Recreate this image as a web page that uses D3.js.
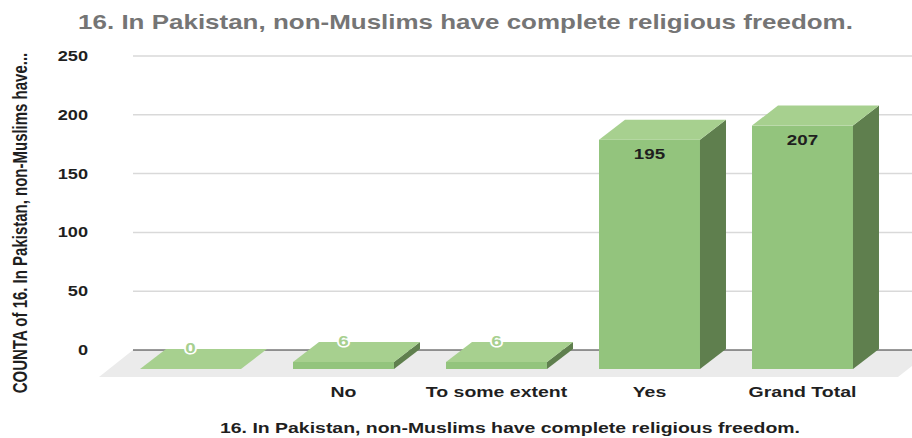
<!DOCTYPE html>
<html>
<head>
<meta charset="utf-8">
<script src="https://cdn.jsdelivr.net/npm/d3@7"></script>
<style>
  html, body { margin: 0; padding: 0; background: #ffffff; }
  svg { display: block; }
  text { font-family: "Liberation Sans", Arial, sans-serif; font-weight: bold; }
</style>
</head>
<body>
<svg id="chart" width="912" height="438"></svg>
<script>
// Responses per answer, plus the grand total
const categories = ["", "No", "To some extent", "Yes", "Grand Total"];
const counts = [0, 6, 6, 195, 207];
const yTicks = [0, 50, 100, 150, 200, 250];

const chartTitle = "16. In Pakistan, non-Muslims have complete religious freedom.";
const xTitle = "16. In Pakistan, non-Muslims have complete religious freedom.";
const yTitle = "COUNTA of 16. In Pakistan, non-Muslims have...";

const W = 912, H = 438;
const svg = d3.select("#chart");

// wide lettering: each label is drawn at its anchor and stretched horizontally
function place(sel, fx, fy, sx) {
  return sel.attr("transform", (d, i) => `translate(${fx(d, i)},${fy(d, i)}) scale(${sx},1)`);
}

// 3D depth offset of the columns (back face is up and to the right)
const depthX = 26, depthY = 20;

const x = d3.scaleBand()
  .domain(categories)
  .range([114, 879])
  .paddingInner(0.34)
  .paddingOuter(0.17);

// back-wall scale; column fronts sit depthY lower
const y = d3.scaleLinear().domain([0, 250]).range([350, 56]);

const wallLeft = 133;
const baseBack = y(0);
const baseFront = baseBack + depthY - 1;

// floor
const floorDepth = 27, floorShift = 34;
svg.append("path")
  .attr("d", d3.line()([
    [wallLeft, baseBack], [W + 20, baseBack],
    [W + 20 - floorShift, baseBack + floorDepth], [wallLeft - floorShift, baseBack + floorDepth]
  ]) + "Z")
  .attr("fill", "#ebebeb");

// gridlines on the back wall
svg.append("g").selectAll("line")
  .data(yTicks.filter(d => d > 0))
  .join("line")
  .attr("x1", wallLeft).attr("x2", W)
  .attr("y1", d => y(d)).attr("y2", d => y(d))
  .attr("stroke", "#d9d9d9")
  .attr("stroke-width", 1.5);

svg.append("line")
  .attr("x1", wallLeft).attr("x2", W)
  .attr("y1", baseBack).attr("y2", baseBack)
  .attr("stroke", "#333333")
  .attr("stroke-width", 1);

// y tick labels
place(svg.append("g").selectAll("text")
  .data(yTicks)
  .join("text")
  .attr("dy", "0.35em")
  .attr("text-anchor", "end")
  .attr("font-size", 14)
  .attr("fill", "#1f1f1f")
  .text(d => d), () => 88, d => y(d), 1.3);

// columns
const data = categories.map((c, i) => ({ cat: c, value: counts[i] }));
const bars = svg.append("g").selectAll("g")
  .data(data)
  .join("g");

const w = x.bandwidth();
const frontTop = v => y(v) + depthY - 1;
bars.each(function (d) {
  const g = d3.select(this);
  const x0 = x(d.cat);
  const top = frontTop(d.value);
  if (d.value > 0) {
    g.append("rect")
      .attr("x", x0).attr("y", top)
      .attr("width", w).attr("height", baseFront - top)
      .attr("fill", "#93c47d");
    g.append("path")
      .attr("d", d3.line()([
        [x0 + w, top], [x0 + w + depthX, top - depthY],
        [x0 + w + depthX, baseFront - depthY], [x0 + w, baseFront]
      ]) + "Z")
      .attr("fill", "#5f7f4e");
  }
  g.append("path")
    .attr("d", d3.line()([
      [x0, top], [x0 + w, top],
      [x0 + w + depthX, top - depthY], [x0 + depthX, top - depthY]
    ]) + "Z")
    .attr("fill", "#a7d08f");
});

// value labels: inside tall columns, above short ones
place(bars.append("text")
  .attr("text-anchor", "middle")
  .attr("font-size", 15)
  .attr("fill", d => d.value > 50 ? "#1f1f1f" : "#a7d08f")
  .attr("stroke", d => d.value > 50 ? "none" : "#ffffff")
  .attr("stroke-width", 3)
  .attr("paint-order", "stroke")
  .text(d => d.value),
  d => x(d.cat) + w / 2,
  d => d.value > 50 ? frontTop(d.value) + 19.5 : frontTop(d.value) - 16,
  1.25);

// category labels
place(svg.append("g").selectAll("text")
  .data(categories)
  .join("text")
  .attr("text-anchor", "middle")
  .attr("font-size", 15)
  .attr("fill", "#1f1f1f")
  .text(d => d), d => x(d) + w / 2, () => 397, 1.3);

// titles
svg.append("text")
  .attr("transform", "translate(465.5,29) scale(1.237,1)")
  .attr("text-anchor", "middle")
  .attr("font-size", 21)
  .attr("fill", "#757575")
  .text(chartTitle);

svg.append("text")
  .attr("transform", "translate(510,433) scale(1.296,1)")
  .attr("text-anchor", "middle")
  .attr("font-size", 15)
  .attr("fill", "#1f1f1f")
  .text(xTitle);

svg.append("text")
  .attr("transform", "translate(27,223) scale(1.3,1) rotate(-90)")
  .attr("text-anchor", "middle")
  .attr("font-size", 15)
  .attr("fill", "#1f1f1f")
  .text(yTitle);
</script>
</body>
</html>
